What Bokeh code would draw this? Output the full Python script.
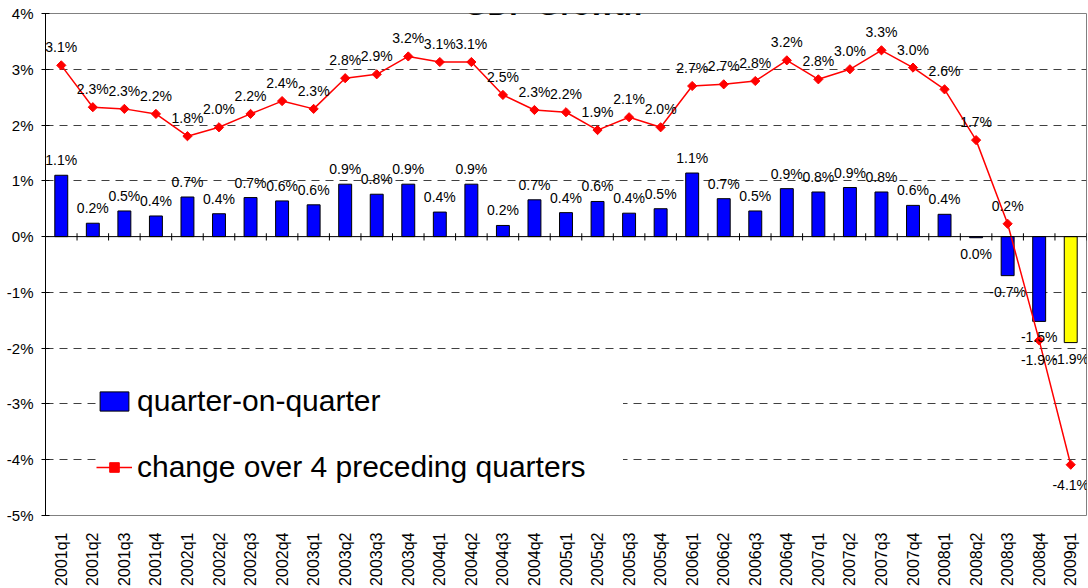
import math
from bokeh.plotting import figure
from bokeh.models import (ColumnDataSource, FactorRange, Range1d, FixedTicker,
                          PrintfTickFormatter, Legend, LegendItem, Span, Label)
from bokeh.core.properties import value
from bokeh.embed import file_html
from bokeh.resources import INLINE

quarters = ["2001q1", "2001q2", "2001q3", "2001q4",
            "2002q1", "2002q2", "2002q3", "2002q4",
            "2003q1", "2003q2", "2003q3", "2003q4",
            "2004q1", "2004q2", "2004q3", "2004q4",
            "2005q1", "2005q2", "2005q3", "2005q4",
            "2006q1", "2006q2", "2006q3", "2006q4",
            "2007q1", "2007q2", "2007q3", "2007q4",
            "2008q1", "2008q2", "2008q3", "2008q4",
            "2009q1"]

quarter_on_quarter = [1.10, 0.24, 0.46, 0.37,
                      0.71, 0.41, 0.70, 0.64,
                      0.57, 0.94, 0.76, 0.94,
                      0.44, 0.94, 0.20, 0.66,
                      0.43, 0.63, 0.42, 0.50,
                      1.14, 0.68, 0.46, 0.86,
                      0.80, 0.88, 0.80, 0.56,
                      0.40, -0.02, -0.70, -1.52,
                      -1.90]

change_4q = [3.07, 2.32, 2.29, 2.20,
             1.80, 1.96, 2.20, 2.43,
             2.29, 2.84, 2.91, 3.23,
             3.13, 3.13, 2.54, 2.27,
             2.23, 1.91, 2.14, 1.96,
             2.70, 2.73, 2.79, 3.16,
             2.82, 3.00, 3.34, 3.03,
             2.64, 1.73, 0.23, -1.86,
             -4.09]

y_ticks = [-5, -4, -3, -2, -1, 0, 1, 2, 3, 4]

FONT = "Liberation Sans"


def fmt(v):
    s = f"{v:.1f}"
    if s == "-0.0":
        s = "0.0"
    return s + "%"


n = len(quarters)
bar_colors = ["#0000FF"] * (n - 1) + ["#FFFF00"]

bars = ColumnDataSource(dict(
    x=quarters, top=quarter_on_quarter, color=bar_colors,
    label=[fmt(v) for v in quarter_on_quarter],
    off=[-15 if v >= 0 else 16 for v in quarter_on_quarter],
))
line = ColumnDataSource(dict(
    x=quarters, y=change_4q,
    label=[fmt(v) for v in change_4q],
    off=[-18 if v >= 0 else 20 for v in change_4q],
))

p = figure(width=1088, height=588,
           x_range=FactorRange(*quarters, range_padding=0, factor_padding=0),
           y_range=Range1d(y_ticks[0], y_ticks[-1]),
           output_backend="svg", toolbar_location=None,
           min_border_left=45, min_border_right=2,
           min_border_top=13, min_border_bottom=71)

p.outline_line_color = "#808080"
p.outline_line_width = 1
p.background_fill_color = "white"
p.border_fill_color = "white"

# grid
p.xgrid.visible = False
p.ygrid.ticker = FixedTicker(ticks=[t for t in y_ticks if t not in (0, y_ticks[0])])
p.ygrid.grid_line_color = "#404040"
p.ygrid.grid_line_dash = "8 6"
p.ygrid.grid_line_width = 1

# y axis
p.yaxis.ticker = FixedTicker(ticks=y_ticks)
p.yaxis.formatter = PrintfTickFormatter(format="%d%%")
p.yaxis.axis_line_color = "black"
p.yaxis.major_tick_line_color = "black"
p.yaxis.major_tick_in = 4
p.yaxis.major_tick_out = 4
p.yaxis.minor_tick_line_color = None
p.yaxis.major_label_standoff = 8
p.yaxis.major_label_text_font = FONT
p.yaxis.major_label_text_font_size = "15px"
p.yaxis.major_label_text_color = "black"

# x axis
p.xaxis.axis_line_color = None
p.xaxis.major_tick_line_color = None
p.xaxis.minor_tick_line_color = None
p.xaxis.major_label_orientation = math.pi / 2
p.xaxis.major_label_standoff = 11
p.xaxis.major_label_text_font = FONT
p.xaxis.major_label_text_font_size = "16px"
p.xaxis.major_label_text_color = "black"

# zero line with category-boundary ticks
p.add_layout(Span(location=0, dimension="width", line_color="black", line_width=1))
bounds = list(range(1, n + 1))
p.segment(x0=bounds, x1=bounds, y0=[0.06] * n, y1=[-0.07] * n,
          line_color="black", line_width=1)

bar_r = p.vbar(x="x", top="top", width=0.41, source=bars,
               fill_color="color", line_color="black", line_width=1)

line_r = p.line(x="x", y="y", source=line, line_color="#FF0000", line_width=1.5)
mark_r = p.scatter(x="x", y="y", source=line, marker="square", angle=math.pi / 4,
                   size=6.5, fill_color="#FF0000", line_color="#FF0000")

p.text(x="x", y="top", text="label", source=bars, y_offset="off",
       text_align="center", text_baseline="middle",
       text_font=value(FONT), text_font_size="14px", text_color="black")
p.text(x="x", y="y", text="label", source=line, y_offset="off",
       text_align="center", text_baseline="middle",
       text_font=value(FONT), text_font_size="14px", text_color="black")

legend = Legend(items=[
    LegendItem(label="quarter-on-quarter", renderers=[bar_r]),
    LegendItem(label="change over 4 preceding quarters", renderers=[line_r, mark_r]),
], location=(51, 31))
legend.background_fill_color = "white"
legend.background_fill_alpha = 1
legend.border_line_color = None
legend.padding = 30
legend.margin = 0
legend.spacing = 32
legend.glyph_width = 36
legend.glyph_height = 24
legend.label_standoff = 5
legend.label_width = 486
legend.label_text_font = FONT
legend.label_text_font_size = "30px"
legend.label_text_color = "black"
p.add_layout(legend, "center")

title = Label(x=16.1, y=y_ticks[-1] + 0.16, text="GDP Growth",
              text_align="center", text_baseline="alphabetic",
              text_font=FONT, text_font_size="30px", text_font_style="bold",
              text_color="black")
p.add_layout(title)

open("out.html", "w").write(file_html(p, INLINE))
